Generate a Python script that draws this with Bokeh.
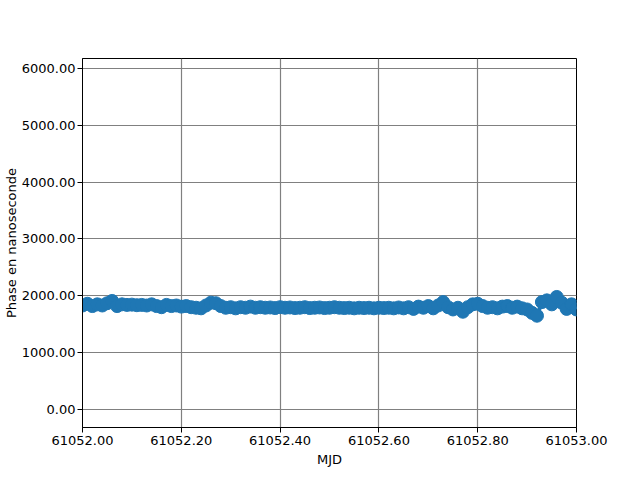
from bokeh.plotting import figure
from bokeh.models import FixedTicker, NumeralTickFormatter, Range1d
from bokeh.embed import file_html
from bokeh.resources import INLINE

# MJD sampled every 0.01 day from 61052.00 to 61053.00
mjd_start = 61052.0
mjd_step = 0.01
phase_ns = [
    1830, 1860, 1820, 1850, 1830, 1870, 1910, 1820, 1850, 1840,
    1845, 1835, 1840, 1830, 1850, 1820, 1800, 1840, 1820, 1830,
    1810, 1820, 1800, 1790, 1780, 1830, 1880, 1870, 1820, 1790,
    1800, 1780, 1800, 1790, 1810, 1790, 1800, 1790, 1795, 1785,
    1800, 1790, 1795, 1785, 1790, 1800, 1785, 1790, 1795, 1785,
    1790, 1800, 1790, 1785, 1790, 1780, 1790, 1785, 1790, 1780,
    1790, 1785, 1790, 1780, 1795, 1780, 1800, 1770, 1810, 1790,
    1820, 1780, 1830, 1890, 1800, 1760, 1790, 1720, 1800, 1850,
    1860, 1820, 1790, 1800, 1780, 1810, 1820, 1790, 1810, 1780,
    1760, 1700, 1650, 1890, 1920, 1850, 1980, 1880, 1770, 1850,
    1760,
]
mjd = [mjd_start + mjd_step * i for i in range(len(phase_ns))]

x_ticks = [61052.0, 61052.2, 61052.4, 61052.6, 61052.8, 61053.0]
y_ticks = [0, 1000, 2000, 3000, 4000, 5000, 6000]

FONT = "DejaVu Sans"
BLUE = "#1f77b4"

p = figure(width=624, height=472, output_backend="svg", toolbar_location=None,
           x_range=Range1d(61052.0, 61053.0), y_range=Range1d(-317, 6176),
           min_border_left=80, min_border_right=48, min_border_top=58,
           min_border_bottom=45)

p.line(mjd, phase_ns, line_color=BLUE, line_width=4)
p.scatter(mjd, phase_ns, size=13, fill_color=BLUE, line_color=BLUE)

for ax in (p.xaxis, p.yaxis):
    ax.major_label_text_font = FONT
    ax.major_label_text_font_size = "13px"
    ax.major_label_text_color = "black"
    ax.axis_label_text_font = FONT
    ax.axis_label_text_font_size = "13px"
    ax.axis_label_text_font_style = "normal"
    ax.axis_label_text_color = "black"
    ax.major_tick_out = 5
    ax.major_tick_in = 0
    ax.minor_tick_out = 0
    ax.minor_tick_in = 0
    ax.major_tick_line_color = "black"
    ax.axis_line_color = "black"
    ax.major_label_standoff = 3

p.yaxis.major_label_standoff = 2
p.xaxis.ticker = FixedTicker(ticks=x_ticks)
p.yaxis.ticker = FixedTicker(ticks=y_ticks)
p.xaxis.formatter = NumeralTickFormatter(format="0.00")
p.yaxis.formatter = NumeralTickFormatter(format="0.00")
p.xaxis.axis_label = "MJD"
p.xaxis.axis_label_standoff = 4
p.yaxis.axis_label = "Phase en nanoseconde"
p.yaxis.axis_label_standoff = 0

p.xgrid.grid_line_color = "#808080"
p.ygrid.grid_line_color = "#808080"
p.xgrid.grid_line_width = 1.2
p.ygrid.grid_line_width = 1.2
p.outline_line_color = "black"
p.outline_line_width = 1
p.outline_line_alpha = 1.0

open("out.html", "w").write(file_html(p, INLINE))
